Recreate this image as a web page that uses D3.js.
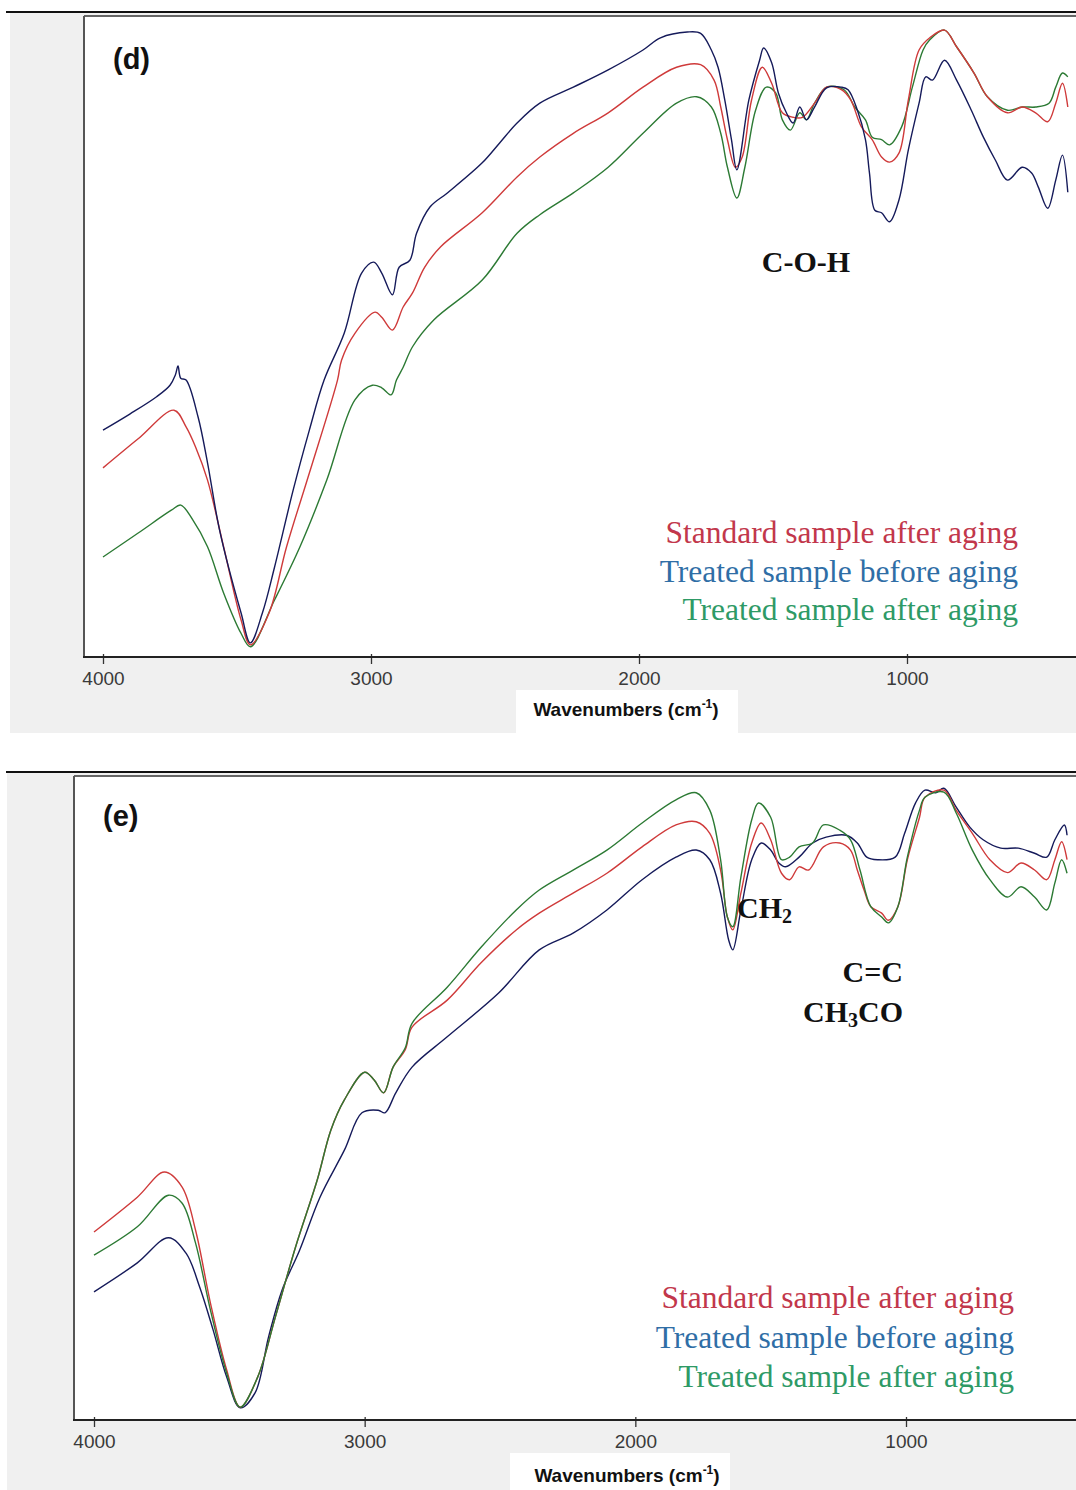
<!DOCTYPE html>
<html>
<head>
<meta charset="utf-8">
<script src="https://cdn.jsdelivr.net/npm/d3@7"></script>
<style>
  body { margin: 0; background: #fff; }
</style>
</head>
<body>
<svg id="chart" width="1076" height="1490"></svg>
<script>
// x ticks (cm-1) and legend
const tickValues = [4000, 3000, 2000, 1000];
const legendLabels = ["Standard sample after aging", "Treated sample before aging", "Treated sample after aging"];

// panel (d): [wavenumber, transmittance (arb. %)]
const dStandardAfter = [[4000,29.5],[3870,34.0],[3735,38.5],[3690,35.9],[3655,32.8],[3610,27.6],[3550,17.2],[3485,5.8],[3450,1.9],[3380,6.9],[3315,17.2],[3230,28.7],[3125,43.2],[3110,46.3],[3060,50.5],[2985,53.8],[2960,53.0],[2920,51.0],[2880,54.6],[2845,56.8],[2800,60.8],[2740,64.0],[2585,69.3],[2455,74.9],[2370,78.0],[2245,81.7],[2115,84.9],[1985,88.9],[1860,92.0],[1770,92.4],[1720,90.0],[1695,85.8],[1670,80.7],[1640,76.4],[1615,78.0],[1580,86.9],[1540,92.0],[1505,89.5],[1465,84.9],[1425,84.2],[1390,84.2],[1345,86.4],[1300,88.9],[1245,88.5],[1210,86.9],[1170,82.7],[1130,80.7],[1095,78.0],[1065,77.2],[1030,78.6],[995,86.9],[955,94.7],[915,96.6],[860,97.8],[815,95.2],[750,91.1],[700,87.4],[625,84.9],[570,85.8],[520,84.9],[475,83.5],[445,86.4],[420,89.5],[400,85.8]];
const dTreatedBefore = [[4000,35.4],[3900,37.9],[3800,40.6],[3750,42.4],[3730,44.0],[3720,45.4],[3710,43.5],[3690,43.2],[3645,37.4],[3610,30.3],[3565,19.8],[3485,6.9],[3450,2.2],[3405,6.9],[3360,14.0],[3290,26.1],[3230,35.4],[3175,43.2],[3100,50.5],[3035,59.9],[2990,61.6],[2960,59.9],[2920,56.5],[2895,60.8],[2855,61.9],[2830,66.1],[2780,70.2],[2715,72.4],[2585,77.1],[2520,80.2],[2455,83.3],[2370,86.4],[2245,88.9],[2115,91.6],[1985,94.7],[1920,96.6],[1820,97.5],[1770,97.3],[1730,94.7],[1705,92.0],[1680,86.9],[1655,80.7],[1635,76.0],[1590,86.9],[1550,93.1],[1535,95.0],[1505,92.7],[1480,88.0],[1450,84.9],[1425,83.3],[1400,85.8],[1375,83.8],[1345,85.8],[1300,88.8],[1245,88.9],[1220,88.5],[1185,85.3],[1155,80.7],[1140,75.5],[1120,69.7],[1095,69.3],[1065,67.9],[1030,71.3],[995,79.1],[955,86.4],[930,90.5],[905,90.0],[860,93.1],[815,90.0],[760,85.3],[715,81.1],[670,77.5],[625,74.4],[570,76.4],[535,75.5],[510,73.3],[475,70.0],[445,74.4],[420,78.3],[400,72.5]];
const dTreatedAfter = [[4000,15.6],[3870,19.3],[3745,22.9],[3710,23.7],[3665,21.4],[3610,17.2],[3550,10.0],[3485,3.7],[3450,1.6],[3360,8.9],[3265,17.2],[3165,27.6],[3060,40.1],[2995,42.4],[2960,42.0],[2925,40.9],[2905,43.2],[2880,45.2],[2845,48.4],[2765,52.6],[2585,58.8],[2455,66.1],[2370,69.0],[2245,72.4],[2115,76.4],[1985,81.7],[1860,86.4],[1785,87.4],[1730,85.8],[1695,81.7],[1670,76.4],[1635,71.6],[1605,76.4],[1565,85.3],[1525,88.9],[1490,88.0],[1465,83.8],[1435,82.2],[1400,84.9],[1375,83.8],[1345,86.4],[1300,88.9],[1235,88.5],[1195,85.8],[1155,83.8],[1130,81.1],[1095,80.7],[1065,79.9],[1020,82.7],[980,88.9],[940,94.7],[915,96.3],[860,97.8],[815,95.2],[750,91.1],[700,87.4],[625,85.3],[570,85.8],[520,85.8],[470,86.4],[445,88.9],[420,91.1],[400,90.5]];

// panel (e)
const eStandardAfter = [[4000,29.2],[3840,34.6],[3740,38.5],[3675,36.2],[3625,29.5],[3570,18.2],[3510,7.8],[3460,2.0],[3395,6.7],[3330,16.0],[3255,26.9],[3175,37.3],[3125,45.0],[3075,49.7],[3000,54.0],[2965,52.8],[2930,50.8],[2895,54.8],[2850,57.5],[2825,61.0],[2695,65.2],[2570,71.0],[2440,76.1],[2355,78.7],[2230,81.8],[2105,84.9],[1975,89.0],[1850,92.4],[1775,92.9],[1725,91.1],[1685,85.4],[1660,78.1],[1640,76.1],[1610,81.8],[1570,89.6],[1535,92.7],[1500,90.1],[1460,84.9],[1430,83.9],[1395,85.9],[1360,85.4],[1305,89.0],[1245,89.6],[1205,88.5],[1180,85.4],[1155,82.3],[1130,79.7],[1090,78.7],[1065,77.6],[1030,79.7],[995,87.0],[950,93.6],[930,96.7],[860,97.8],[815,94.7],[755,91.1],[690,87.0],[625,85.0],[575,86.5],[525,85.4],[480,83.9],[450,87.0],[425,89.8],[405,87.0]];
const eTreatedBefore = [[4000,19.9],[3840,24.4],[3725,28.3],[3660,25.9],[3610,20.7],[3560,14.0],[3510,6.7],[3460,1.9],[3405,4.2],[3355,12.9],[3305,20.2],[3240,26.4],[3165,34.6],[3075,41.9],[3010,47.7],[2950,48.1],[2925,47.7],[2885,50.8],[2825,54.8],[2695,59.5],[2505,66.3],[2355,73.0],[2230,75.6],[2105,79.2],[1975,83.9],[1850,87.4],[1775,88.5],[1725,87.0],[1685,81.8],[1655,74.5],[1640,73.0],[1610,79.2],[1570,87.0],[1535,89.6],[1500,88.5],[1470,86.5],[1445,85.9],[1395,87.4],[1345,89.6],[1295,90.5],[1220,90.8],[1180,89.6],[1145,87.4],[1105,87.0],[1040,87.4],[1005,91.1],[965,95.8],[930,97.8],[890,97.4],[860,98.1],[815,95.2],[765,92.1],[715,90.1],[650,88.8],[585,88.8],[525,88.0],[480,87.4],[450,90.1],[415,92.4],[405,90.8]];
const eTreatedAfter = [[4000,25.6],[3840,30.0],[3725,34.9],[3675,33.7],[3625,27.5],[3570,17.1],[3510,7.3],[3460,2.0],[3395,6.7],[3330,16.0],[3255,26.9],[3175,37.3],[3125,45.0],[3075,49.7],[3000,54.0],[2965,52.8],[2930,50.8],[2895,54.8],[2850,57.8],[2825,61.6],[2695,67.2],[2570,73.4],[2440,79.2],[2355,82.3],[2230,85.4],[2105,88.5],[1975,92.7],[1850,96.3],[1775,97.4],[1725,94.7],[1685,87.0],[1660,78.1],[1640,76.6],[1610,84.3],[1570,93.2],[1545,95.8],[1500,93.6],[1460,87.0],[1430,87.4],[1395,89.0],[1345,89.6],[1305,92.4],[1245,91.6],[1205,90.1],[1170,85.4],[1130,79.7],[1090,78.1],[1065,77.2],[1030,79.7],[995,87.4],[950,94.7],[930,96.7],[860,97.5],[815,94.3],[755,88.5],[690,83.9],[625,81.2],[575,82.8],[525,81.2],[480,79.2],[450,83.4],[425,87.0],[405,84.9]];

const lineColors = { standard: "#cf3a3a", before: "#151a5a", after: "#2c7a34" };
const legendColors = ["#c2374b", "#2f6ea6", "#2e9a66"];

const W = 1076;
const svg = d3.select("#chart");

const panels = [
  {
    id: "d", tag: "(d)", lineY: 12, lineX: 6, grayX: 10, plotX: 84, plotTop: 16, axisY: 657, grayBottom: 733,
    x4000: 103, x1000: 907, box: [516, 690, 738, 733], tagX: 113, tagY: 69, axisLabelX: 626, axisLabelY: 716,
    legendRight: 1018, legendY: [543, 582, 620],
    series: [["after", dTreatedAfter], ["standard", dStandardAfter], ["before", dTreatedBefore]],
    notes: [{ x: 806, y: 272, anchor: "middle", parts: [["C-O-H", 0]] }]
  },
  {
    id: "e", tag: "(e)", lineY: 772, lineX: 6, grayX: 7, plotX: 74, plotTop: 776, axisY: 1420, grayBottom: 1490,
    x4000: 94, x1000: 906, box: [510, 1453, 730, 1490], tagX: 103, tagY: 826, axisLabelX: 627, axisLabelY: 1482,
    legendRight: 1014, legendY: [1308, 1348, 1387],
    series: [["before", eTreatedBefore], ["standard", eStandardAfter], ["after", eTreatedAfter]],
    notes: [
      { x: 737, y: 918, anchor: "start", parts: [["CH", 0], ["2", 1]] },
      { x: 903, y: 982, anchor: "end", parts: [["C=C", 0]] },
      { x: 903, y: 1022, anchor: "end", parts: [["CH", 0], ["3", 1], ["CO", 0]] }
    ]
  }
];

panels.forEach(p => {
  const x = d3.scaleLinear().domain([4000, 1000]).range([p.x4000, p.x1000]);
  const y = d3.scaleLinear().domain([0, 100]).range([p.axisY, p.plotTop]);
  const g = svg.append("g");

  // background blocks
  g.append("rect").attr("x", p.grayX).attr("y", p.lineY + 1)
    .attr("width", W - p.grayX).attr("height", p.grayBottom - p.lineY - 1).attr("fill", "#f0f0f0");
  g.append("rect").attr("x", p.plotX).attr("y", p.plotTop)
    .attr("width", W - p.plotX).attr("height", p.axisY - p.plotTop).attr("fill", "#fff");
  g.append("rect").attr("x", p.box[0]).attr("y", p.box[1])
    .attr("width", p.box[2] - p.box[0]).attr("height", p.box[3] - p.box[1]).attr("fill", "#fff");

  // separator + frame
  g.append("line").attr("x1", p.lineX).attr("x2", W).attr("y1", p.lineY).attr("y2", p.lineY)
    .attr("stroke", "#111").attr("stroke-width", 2);
  g.append("line").attr("x1", p.plotX).attr("x2", W).attr("y1", p.plotTop).attr("y2", p.plotTop)
    .attr("stroke", "#666").attr("stroke-width", 2);
  g.append("line").attr("x1", p.plotX).attr("x2", p.plotX).attr("y1", p.plotTop).attr("y2", p.axisY)
    .attr("stroke", "#555").attr("stroke-width", 2);

  // clip
  svg.append("clipPath").attr("id", "clip-" + p.id)
    .append("rect").attr("x", p.plotX + 1).attr("y", p.plotTop + 1)
    .attr("width", W - p.plotX).attr("height", p.axisY - p.plotTop - 2);

  const line = d3.line()
    .x(d => x(d[0]))
    .y(d => y(d[1]))
    .curve(d3.curveCatmullRom.alpha(0.5));

  g.append("g").attr("clip-path", `url(#clip-${p.id})`)
    .selectAll("path")
    .data(p.series)
    .join("path")
    .attr("d", d => line(d[1]))
    .attr("fill", "none")
    .attr("stroke", d => lineColors[d[0]])
    .attr("stroke-width", 1.4)
    .attr("stroke-linejoin", "round");

  // x axis
  const axis = g.append("g").attr("transform", `translate(0,${p.axisY})`)
    .call(d3.axisBottom(x).tickValues(tickValues).tickSize(7).tickPadding(8).tickFormat(d3.format("d")));
  axis.select(".domain").remove();
  axis.selectAll(".tick line").attr("y1", -3).attr("stroke", "#333").attr("stroke-width", 1.3);
  axis.selectAll(".tick text")
    .attr("fill", "#3a3a3a")
    .style("font-family", "'Liberation Sans', Arial, sans-serif")
    .style("font-size", "19px");

  g.append("line").attr("x1", p.plotX - 1).attr("x2", W).attr("y1", p.axisY).attr("y2", p.axisY)
    .attr("stroke", "#222").attr("stroke-width", 2);

  // axis title
  const title = g.append("text").attr("x", p.axisLabelX).attr("y", p.axisLabelY)
    .attr("text-anchor", "middle")
    .style("font-family", "'Liberation Sans', Arial, sans-serif")
    .style("font-weight", "bold").style("font-size", "19px").attr("fill", "#111");
  title.append("tspan").text("Wavenumbers (cm");
  title.append("tspan").attr("dy", -8).style("font-size", "12px").text("-1");
  title.append("tspan").attr("dy", 8).text(")");

  // panel tag
  g.append("text").attr("x", p.tagX).attr("y", p.tagY)
    .style("font-family", "'Liberation Sans', Arial, sans-serif")
    .style("font-weight", "bold").style("font-size", "29px").attr("fill", "#111")
    .text(p.tag);

  // legend
  g.selectAll(".legend").data(legendLabels).join("text")
    .attr("x", p.legendRight).attr("y", (d, i) => p.legendY[i])
    .attr("text-anchor", "end")
    .style("font-family", "'Liberation Serif', 'Times New Roman', serif")
    .style("font-size", "31.5px")
    .attr("fill", (d, i) => legendColors[i])
    .text(d => d);

  // annotations
  p.notes.forEach(n => {
    const t = g.append("text").attr("x", n.x).attr("y", n.y).attr("text-anchor", n.anchor)
      .style("font-family", "'Liberation Serif', 'Times New Roman', serif")
      .style("font-weight", "bold").style("font-size", "30px").attr("fill", "#111");
    let shifted = false;
    n.parts.forEach(([s, sub]) => {
      const ts = t.append("tspan").text(s);
      if (sub && !shifted) { ts.attr("dy", 5).style("font-size", "20px"); shifted = true; }
      else if (!sub && shifted) { ts.attr("dy", -5); shifted = false; }
    });
  });
});
</script>
</body>
</html>
